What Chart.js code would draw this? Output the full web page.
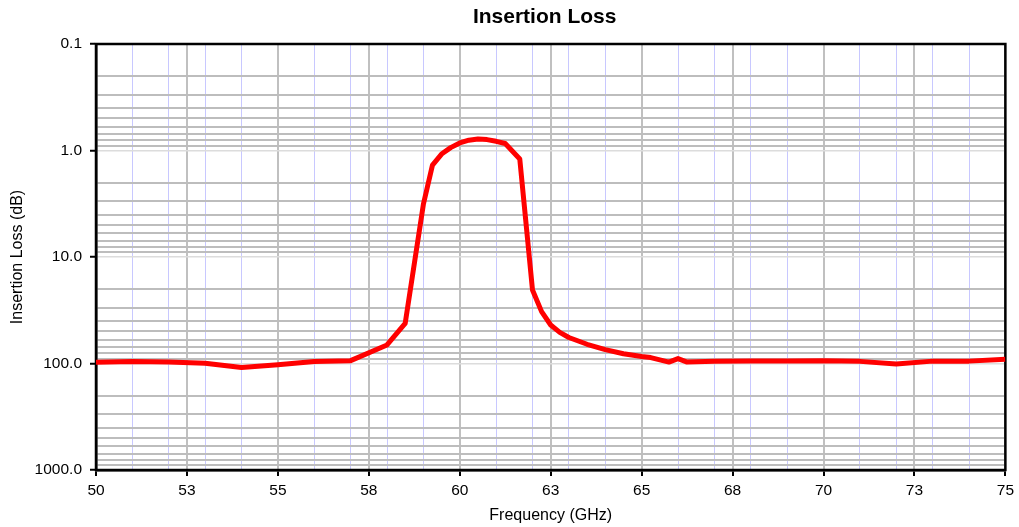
<!DOCTYPE html>
<html><head><meta charset="utf-8">
<script src="https://cdn.jsdelivr.net/npm/chart.js@4.4.0/dist/chart.umd.min.js"></script>
<style>html,body{margin:0;padding:0;background:#fff;}</style>
</head><body>
<canvas id="c" width="1019" height="527"></canvas>
<script>
// ---- data ----
const frequencyGHz = [50, 51, 52, 53, 54, 55, 56, 57, 58, 58.5, 59, 59.25, 59.5, 59.75, 60, 60.25, 60.5, 60.75, 61, 61.25, 61.65, 62, 62.25, 62.5, 62.75, 63, 63.5, 64, 64.5, 65, 65.25, 65.75, 66, 66.25, 67, 68, 69, 70, 71, 72, 73, 74, 75];
const insertionLossDb = [97.5, 96, 97, 99.5, 109, 103, 96, 94, 67, 42, 3.2, 1.37, 1.08, 0.94, 0.85, 0.80, 0.78, 0.79, 0.82, 0.86, 1.2, 20.4, 32.6, 43.5, 51, 57, 66, 74, 81, 86, 88, 97, 90, 97, 95, 94.5, 94.5, 94, 95.5, 101, 95, 95, 91];

const xMajorTicks = [50, 52.5, 55, 57.5, 60, 62.5, 65, 67.5, 70, 72.5, 75];
const xMajorLabels = ['50', '53', '55', '58', '60', '63', '65', '68', '70', '73', '75'];
const xMinorGrid = [51, 52, 53, 54, 56, 57, 58, 59, 61, 62, 63, 64, 66, 67, 68, 69, 71, 72, 73, 74];
const yMajorTicks = [0.1, 1, 10, 100, 1000];
const yMajorLabels = ['0.1', '1.0', '10.0', '100.0', '1000.0'];
const yMinorMultipliers = [2, 3, 4, 5, 6, 7, 8, 9];

// ---- tick lists built from the arrays above ----
const xTickValues = [...xMajorTicks, ...xMinorGrid].sort((a, b) => a - b);
const yTickValues = [];
yMajorTicks.forEach((m, i) => {
  yTickValues.push(m);
  if (i < yMajorTicks.length - 1) yMinorMultipliers.forEach(k => yTickValues.push(m * k));
});
const isXMajor = v => xMajorTicks.some(m => Math.abs(m - v) < 1e-9);
const yMajorIndex = v => yMajorTicks.findIndex(m => Math.abs(m - v) < 1e-9 * Math.max(1, m));
const isYMajor = v => yMajorIndex(v) >= 0;

const FONT = "'Liberation Sans', Arial, sans-serif";

const frame = {
  id: 'frame',
  afterLayout(chart) {
    // shift the title slightly left, as in the reference
    if (chart.titleBlock) { chart.titleBlock.left -= 6; chart.titleBlock.right -= 6; }
  },
  beforeDatasetsDraw(chart) {
    const {ctx, chartArea: a} = chart;
    ctx.save();
    ctx.strokeStyle = '#000';
    ctx.lineWidth = 2.5;
    ctx.strokeRect(a.left, a.top, a.right - a.left, a.bottom - a.top);
    ctx.restore();
  }
};

new Chart(document.getElementById('c'), {
  type: 'line',
  data: {
    datasets: [{
      data: frequencyGHz.map((f, i) => ({x: f, y: insertionLossDb[i]})),
      borderColor: '#ff0000',
      borderWidth: 5,
      pointRadius: 0,
      tension: 0,
      borderJoinStyle: 'round',
      fill: false
    }]
  },
  options: {
    responsive: false,
    animation: false,
    devicePixelRatio: 1,
    layout: {padding: {left: 0, right: 13, top: 0, bottom: 0}},
    plugins: {
      legend: {display: false},
      tooltip: {enabled: false},
      title: {
        display: true,
        text: 'Insertion Loss',
        fullSize: false,
        color: '#000',
        font: {family: FONT, size: 21, weight: 'bold', lineHeight: 1.2},
        padding: {top: 4.4, bottom: 14.4}
      }
    },
    scales: {
      x: {
        type: 'linear',
        position: 'bottom',
        min: 50, max: 75,
        afterBuildTicks: s => { s.ticks = xTickValues.map(v => ({value: v})); },
        afterFit: s => { s.height = 57; },
        ticks: {
          autoSkip: false, maxRotation: 0, minRotation: 0,
          padding: 5,
          color: '#000',
          font: {family: FONT, size: 15.5},
          callback: v => { const i = xMajorTicks.findIndex(m => Math.abs(m - v) < 1e-9); return i >= 0 ? xMajorLabels[i] : ''; }
        },
        grid: {
          drawOnChartArea: true,
          drawTicks: true,
          tickLength: 6,
          color: c => (c.tick && isXMajor(c.tick.value)) ? '#c0c0c0' : '#c8c8ff',
          lineWidth: c => (c.tick && isXMajor(c.tick.value)) ? 2 : 1,
          tickColor: c => (c.tick && isXMajor(c.tick.value)) ? '#000' : 'rgba(0,0,0,0)',
          tickWidth: 2
        },
        border: {display: true, color: '#000', width: 2.5},
        title: {
          display: true, text: 'Frequency (GHz)', color: '#000',
          font: {family: FONT, size: 16},
          padding: {top: 0, bottom: 1.5}
        }
      },
      y: {
        type: 'logarithmic',
        position: 'left',
        reverse: true,
        min: 0.1, max: 1000,
        afterBuildTicks: s => { s.ticks = yTickValues.map(v => ({value: v})); },
        afterFit: s => { s.width = 96; },
        ticks: {
          autoSkip: false,
          padding: 8,
          color: '#000',
          font: {family: FONT, size: 15.5},
          callback: v => { const i = yMajorIndex(v); return i >= 0 ? yMajorLabels[i] : ''; }
        },
        grid: {
          drawOnChartArea: true,
          drawTicks: true,
          tickLength: 6,
          color: c => (c.tick && isYMajor(c.tick.value)) ? '#dcdcdc' : '#bdbdbd',
          lineWidth: c => (c.tick && isYMajor(c.tick.value)) ? 1.5 : 2,
          tickColor: c => (c.tick && isYMajor(c.tick.value)) ? '#000' : 'rgba(0,0,0,0)',
          tickWidth: 2
        },
        border: {display: true, color: '#000', width: 2.5},
        title: {
          display: true, text: 'Insertion Loss (dB)', color: '#000',
          font: {family: FONT, size: 16},
          padding: {top: 8, bottom: 0}
        }
      }
    }
  },
  plugins: [frame]
});
</script>
</body></html>
